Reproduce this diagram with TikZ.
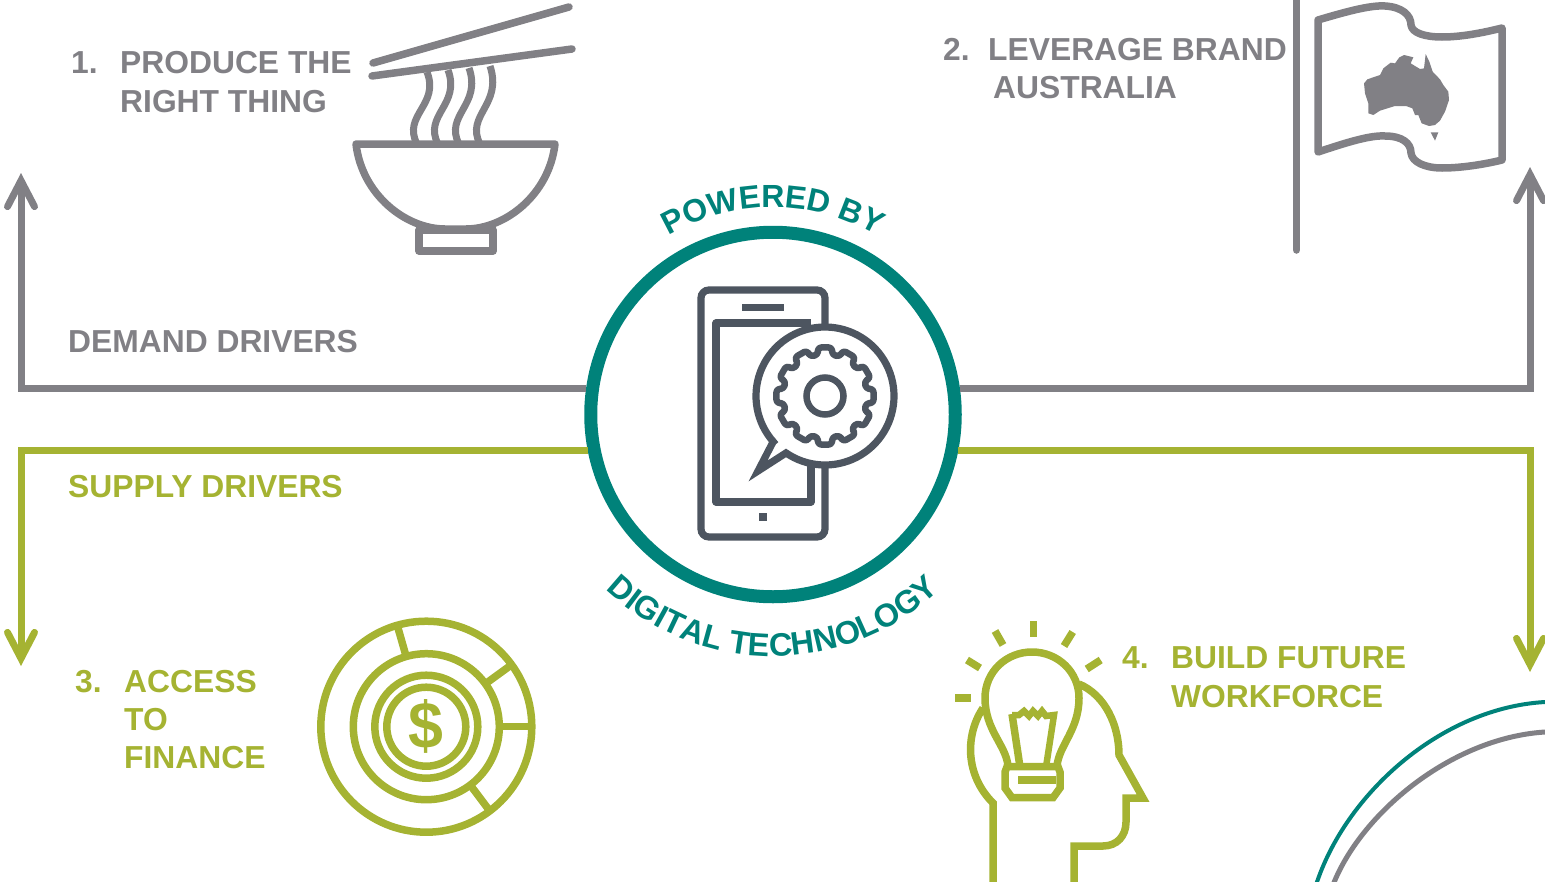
\documentclass[tikz,border=0pt]{standalone}
\usepackage{fontspec}
\setmainfont{Liberation Sans}
\usetikzlibrary{arrows.meta,decorations.text}
\definecolor{gry}{HTML}{818085}
\definecolor{grn}{HTML}{A5B332}
\definecolor{tl}{HTML}{00827A}
\definecolor{drk}{HTML}{4D5560}
\tikzset{
 lab/.style={anchor=base west,inner sep=0pt,font=\fontsize{31.8}{32}\selectfont\bfseries},
 gl/.style={lab,text=gry},
 gn/.style={lab,text=grn},
 conn/.style={line width=7pt,-{Straight Barb[length=26pt,width=27pt,line cap=round,line join=miter]}},
 ico/.style={line width=7.5pt,line join=round},
 grnico/.style={ico,draw=grn,line join=miter},
}
\begin{document}
\begin{tikzpicture}[x=1pt,y=-1pt]
\useasboundingbox (0,0) rectangle (1545,881);
% hub
\node[circle,draw=tl,line width=13pt,fill=white,minimum size=364.5pt] (hub) at (773,414.5) {};
% arrow ends
\coordinate (demandL) at (21,173);
\coordinate (demandR) at (1530,167);
\coordinate (supplyL) at (21,666);
\coordinate (supplyR) at (1530,672);
\draw[conn,gry] (hub.172.35) -| (demandL);
\draw[conn,gry] (hub.8.26) -| (demandR);
\draw[conn,grn] (hub.191.04) -| (supplyL);
\draw[conn,grn] (hub.-11.04) -| (supplyR);
% labels
\node[gl] (n1) at (71,73) {1.};
\node[gl] (t1a) at (120,73) {PRODUCE THE};
\node[gl] (t1b) at (120,112) {RIGHT THING};
\node[gl] (n2) at (943,60) {2.};
\node[gl] (t2a) at (988,60) {LEVERAGE BRAND};
\node[gl] (t2b) at (993,98) {AUSTRALIA};
\node[gl] (dd) at (68,352) {DEMAND DRIVERS};
\node[gn] (sd) at (68,497) {SUPPLY DRIVERS};
\node[gn] (n3) at (75,692) {3.};
\node[gn] (t3a) at (124,692) {ACCESS};
\node[gn] (t3b) at (124,730) {TO};
\node[gn] (t3c) at (124,768) {FINANCE};
\node[gn] (n4) at (1122,668) {4.};
\node[gn] (t4a) at (1171,668) {BUILD FUTURE};
\node[gn] (t4b) at (1171,707) {WORKFORCE};
% curved text
\path[decorate,decoration={text along path,text align=center,text={|\fontsize{32}{32}\selectfont\bfseries\color{tl}|POWERED BY}}]
  plot[smooth,domain=140:40,samples=41] ({773+207*cos(\x)},{414.5-207*sin(\x)});
\path[decorate,decoration={text along path,text align=center,text={|\fontsize{32.5}{32}\selectfont\bfseries\color{tl}|DIGITAL TECHNOLOGY}}]
  plot[smooth,domain=222:318,samples=41] ({773+242*cos(\x)},{414.5-242*sin(\x)});
% phone
\begin{scope}[drk,line width=7.2pt]
\draw[rounded corners=8pt] (701,290) rectangle (825,537);
\draw[line join=round] (811,323) -- (716,323) -- (716,502) -- (811,502) -- (811,460);
\fill (742,304) rectangle (784,311);
\fill (759,513) rectangle (767,521);
\draw[fill=white,line join=miter] (758,471) -- (773,442) -- plot[domain=221.5:-124.4,samples=90] ({825+69*cos(\x)},{396-69*sin(\x)}) -- cycle;
\begin{scope}[shift={(825,396)},line width=6.5pt]
\draw[rounded corners=3pt,line join=round] (80:42) \foreach \a in {90,120,...,390} {-- (\a-8:49) -- (\a+8:49) -- (\a+10:42) -- (\a+20:42)} -- (412:49) -- (428:49) -- (430:42) -- cycle;
\draw (0,0) circle[radius=18.5pt];
\end{scope}
\end{scope}
% bowl
\begin{scope}[ico,gry]
\draw[line cap=round] (373,63) -- (569,7);
\draw[line cap=round] (372,76) -- (572,49);
\foreach \d/\u in {0/0,21/2,42/4,63/6} {
 \draw[line width=7pt] (427+\d,72-\u) .. controls (440+\d,105) and (402+\d,115) .. (417+\d,144);
}
\draw (356,144) -- (555,144) .. controls (549,195) and (505,229) .. (466,229) -- (445,229) .. controls (406,229) and (362,195) .. (356,144) -- cycle;
\draw (419,230) rectangle (493,251);
% flag
\draw[line cap=round] (1296.5,-5) -- (1296.5,250);
\draw (1318,20) .. controls (1345,12) and (1370,5) .. (1385,6) .. controls (1402,7) and (1411,15) .. (1411,25) .. controls (1412,33) and (1425,37) .. (1442,37) .. controls (1465,37) and (1490,31) .. (1502,28) -- (1502,160) .. controls (1490,163) and (1465,168) .. (1442,168) .. controls (1425,168) and (1412,162) .. (1411,153) .. controls (1411,143) and (1402,136) .. (1385,136) .. controls (1370,135) and (1345,143) .. (1318,152) -- cycle;
\begin{scope}[xshift=1280pt,scale=1/3]
\fill (252,250) -- (262,238) -- (300,225) -- (310,205) -- (332,188) -- (345,190) -- (358,172) -- (372,165) -- (400,172) -- (392,190) -- (420,207) -- (432,205) -- (437,162) -- (448,185) -- (458,215) -- (480,238) -- (490,255) -- (505,275) -- (507,300) -- (495,335) -- (480,362) -- (465,375) -- (447,378) -- (425,370) -- (415,345) -- (405,345) -- (397,325) -- (378,318) -- (345,318) -- (300,332) -- (280,345) -- (265,340) -- (265,310) -- (255,280) -- cycle;
\fill (452,397) -- (475,397) -- (465,422) -- cycle;
\end{scope}
\end{scope}
% money
\begin{scope}[shift={(426.3,726.7)},grnico]
\draw (0,0) circle[radius=105.5pt];
\draw (0,0) circle[radius=73pt];
\draw (0,0) circle[radius=51.5pt];
\draw (0,0) circle[radius=39.5pt];
\draw (-106:73) -- (-106:105);
\draw (-36:73) -- (-36:105);
\draw (0:73) -- (0:105);
\draw (53:73) -- (53:105);
\node[text=grn,inner sep=0pt,font=\fontsize{66}{66}\selectfont\bfseries] (dollar) at (0,0) {\scalebox{0.95}[1]{\$}};
\end{scope}
% bulb & head
\begin{scope}[grnico]
\draw (1008,766) .. controls (1006,745) and (985,730) .. (985,698) .. controls (985,672) and (1006,652) .. (1032,652) .. controls (1058,652) and (1079,672) .. (1079,698) .. controls (1079,730) and (1059,745) .. (1057,766);
\draw[line width=6.5pt] (1012,715) -- (1019,715) -- (1024,711) -- (1029,716) -- (1033,711) -- (1038,716) -- (1042,711) -- (1046,716) -- (1054,715) -- (1046,767);
\draw (1012,714) -- (1020,767);
\draw (1007,766.7) -- (1058,766.7) -- (1060,772) -- (1060,788) -- (1053,797.7) -- (1012,797.7) -- (1005,788) -- (1005,772) -- cycle;
\draw (1018,780) -- (1056,780);
\draw (955,698) -- (971,698);
\draw (967,660) -- (980,668);
\draw (995,631) -- (1003,645);
\draw (1033.7,621) -- (1033.7,637);
\draw (1072.7,632) -- (1064,646);
\draw (1100.7,660) -- (1086.7,669);
\draw (983,708) .. controls (965,735) and (965,775) .. (993,803) -- (993,885);
\draw (1079,684) .. controls (1105,695) and (1119,725) .. (1119,755) -- (1143,798) -- (1126,798) -- (1126,822) .. controls (1126,836) and (1117,846) .. (1103,846) -- (1074,846) -- (1074,885);
\end{scope}
% corner arcs
\draw[tl,line width=4pt] (1316,885) .. controls (1345,795) and (1440,708) .. (1545,702);
\draw[gry,line width=5pt] (1333,885) .. controls (1360,815) and (1450,738) .. (1545,732);
\end{tikzpicture}
\end{document}
